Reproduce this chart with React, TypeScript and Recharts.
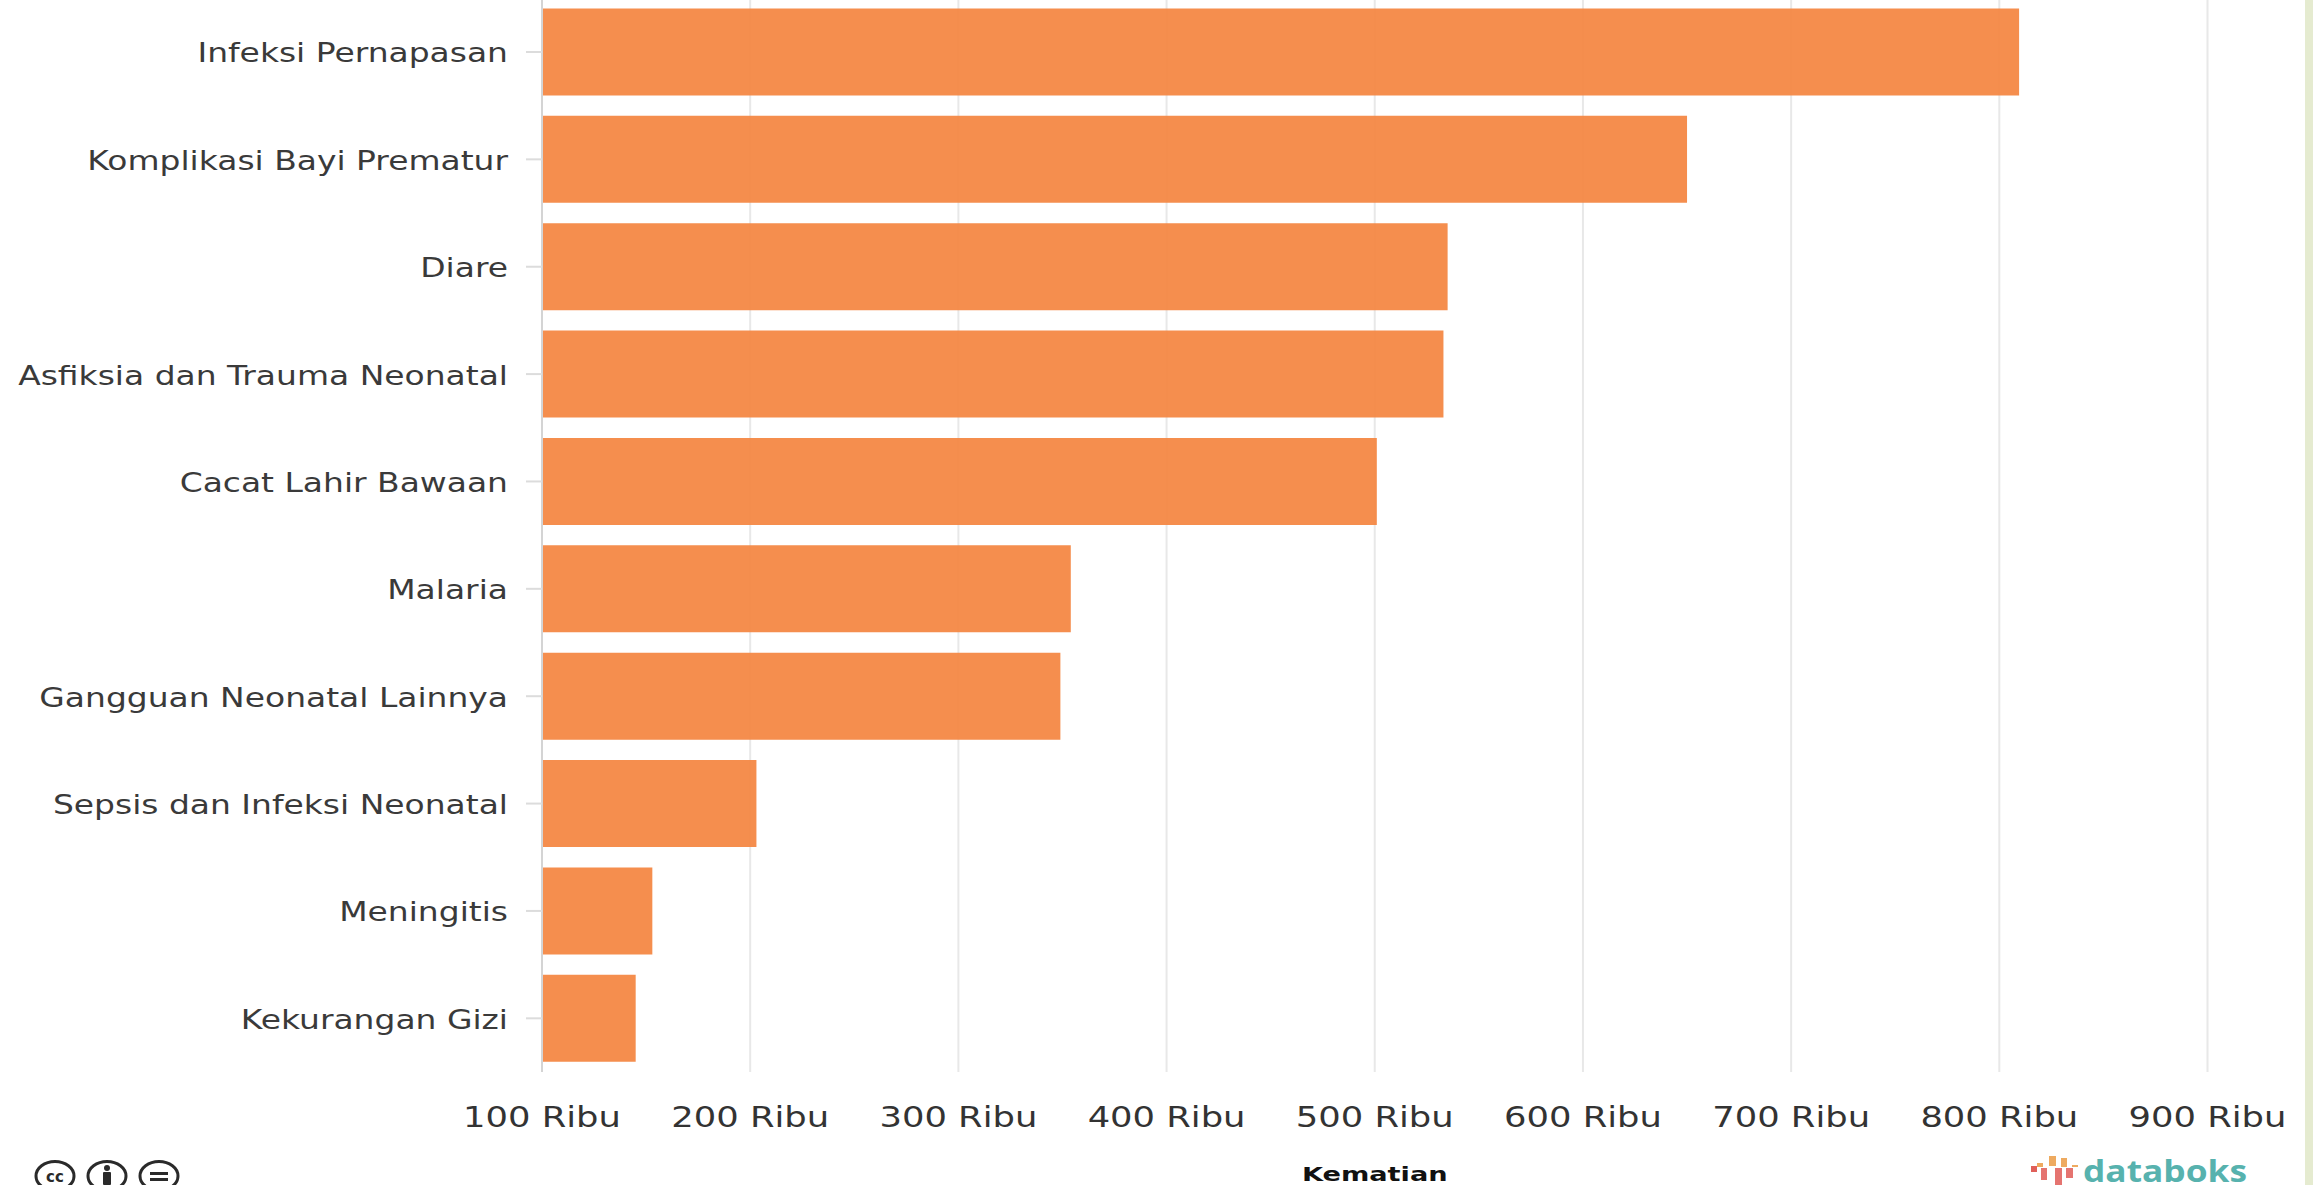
import React from 'react';
import { BarChart, Bar, XAxis, YAxis, CartesianGrid } from 'recharts';

const causes = [
  'Infeksi Pernapasan',
  'Komplikasi Bayi Prematur',
  'Diare',
  'Asfiksia dan Trauma Neonatal',
  'Cacat Lahir Bawaan',
  'Malaria',
  'Gangguan Neonatal Lainnya',
  'Sepsis dan Infeksi Neonatal',
  'Meningitis',
  'Kekurangan Gizi',
];
const deaths = [809.5, 650, 535, 533, 501, 354, 349, 203, 153, 145];
const xTicks = [100, 200, 300, 400, 500, 600, 700, 800, 900];

const data = causes.map((name, i) => ({ name, deaths: deaths[i] }));

const FONT = '"DejaVu Sans", sans-serif';

// All the lettering on this chart is stretched sideways
const CategoryTick = ({ x, y, payload }: any) => (
  <text
    transform={`translate(${x},${y}) scale(1.22,1)`}
    textAnchor="end"
    dy={10.5}
    fontFamily={FONT}
    fontSize={27}
    fill="#3a3a3a"
  >
    {payload.value}
  </text>
);

const ValueTick = ({ x, y, payload }: any) => (
  <text
    transform={`translate(${x},${y}) scale(1.285,1)`}
    textAnchor="middle"
    dy={53}
    fontFamily={FONT}
    fontSize={27.5}
    fill="#333"
  >
    {`${payload.value} Ribu`}
  </text>
);

const AxisTitle = ({ viewBox }: any) => (
  <text
    transform={`translate(${viewBox.x + viewBox.width / 2},${viewBox.y + 109}) scale(1.36,1)`}
    textAnchor="middle"
    fontFamily={FONT}
    fontSize={20}
    fontWeight={700}
    fill="#111"
  >
    Kematian
  </text>
);

// Creative Commons badge, cut off by the bottom edge of the page
const CcBadge = ({ left, children }: { left: number; children: React.ReactNode }) => (
  <svg width={44} height={27} viewBox="0 0 44 27" style={{ position: 'absolute', left, top: 1158 }}>
    <ellipse cx={22} cy={18} rx={19} ry={14.5} fill="#fff" stroke="#2a2a2a" strokeWidth={3} />
    {children}
  </svg>
);

const DataboksLogo = () => (
  <svg width={240} height={33} style={{ position: 'absolute', left: 2028, top: 1152 }}>
    <rect x={3} y={14} width={6} height={6} fill="#e0605a" />
    <rect x={13} y={16} width={6} height={12} fill="#e57470" />
    <rect x={27} y={16} width={7} height={17} fill="#e57470" />
    <rect x={38} y={16} width={7} height={10} fill="#e57470" />
    <rect x={9} y={11} width={6} height={4} fill="#eeaa60" />
    <rect x={21} y={4} width={7} height={10} fill="#eeaa60" />
    <rect x={33} y={6} width={6} height={9} fill="#eeaa60" />
    <rect x={44} y={13} width={6} height={2} fill="#eeaa60" />
    <text
      x={55}
      y={30}
      textLength={164}
      lengthAdjust="spacingAndGlyphs"
      fontFamily='"Open Sans", sans-serif'
      fontWeight={700}
      fontSize={30}
      fill="#57b2ae"
    >
      databoks
    </text>
  </svg>
);

const App: React.FC = () => (
  <div
    style={{
      position: 'absolute',
      left: 0,
      top: 0,
      width: 2313,
      height: 1185,
      overflow: 'hidden',
      background: '#fff',
    }}
  >
    <BarChart
      width={2313}
      height={1185}
      data={data}
      layout="vertical"
      barCategoryGap="9.5%"
      margin={{ top: -1.7, right: 105.5, bottom: 0, left: 0 }}
    >
      <CartesianGrid horizontal={false} stroke="#e8e8e8" strokeWidth={2} />
      <XAxis
        type="number"
        dataKey="deaths"
        domain={[100, 900]}
        ticks={xTicks}
        interval={0}
        allowDataOverflow
        height={113}
        axisLine={false}
        tickLine={false}
        tickSize={0}
        tick={ValueTick}
        label={AxisTitle}
      />
      <YAxis
        type="category"
        dataKey="name"
        width={542}
        interval={0}
        axisLine={{ stroke: '#d4d4d4', strokeWidth: 2 }}
        tickLine={{ stroke: '#dcdcdc', strokeWidth: 2 }}
        tickSize={16}
        tickMargin={18}
        tick={CategoryTick}
      />
      <Bar dataKey="deaths" fill="#f4843f" fillOpacity={0.92} isAnimationActive={false} />
    </BarChart>

    {/* strip of page background along the right edge */}
    <div style={{ position: 'absolute', left: 2305, top: 0, width: 8, height: 1185, background: '#e5ebd0' }} />

    <CcBadge left={33}>
      <text x={22} y={24} textAnchor="middle" fontFamily={FONT} fontWeight={700} fontSize={15} fill="#2a2a2a">
        cc
      </text>
    </CcBadge>
    <CcBadge left={85}>
      <circle cx={22} cy={10} r={3} fill="#2a2a2a" />
      <rect x={18} y={14} width={8} height={13} rx={1} fill="#2a2a2a" />
    </CcBadge>
    <CcBadge left={137}>
      <rect x={13} y={14} width={18} height={3} fill="#2a2a2a" />
      <rect x={13} y={20} width={18} height={3} fill="#2a2a2a" />
    </CcBadge>
    <DataboksLogo />
  </div>
);

export default App;
